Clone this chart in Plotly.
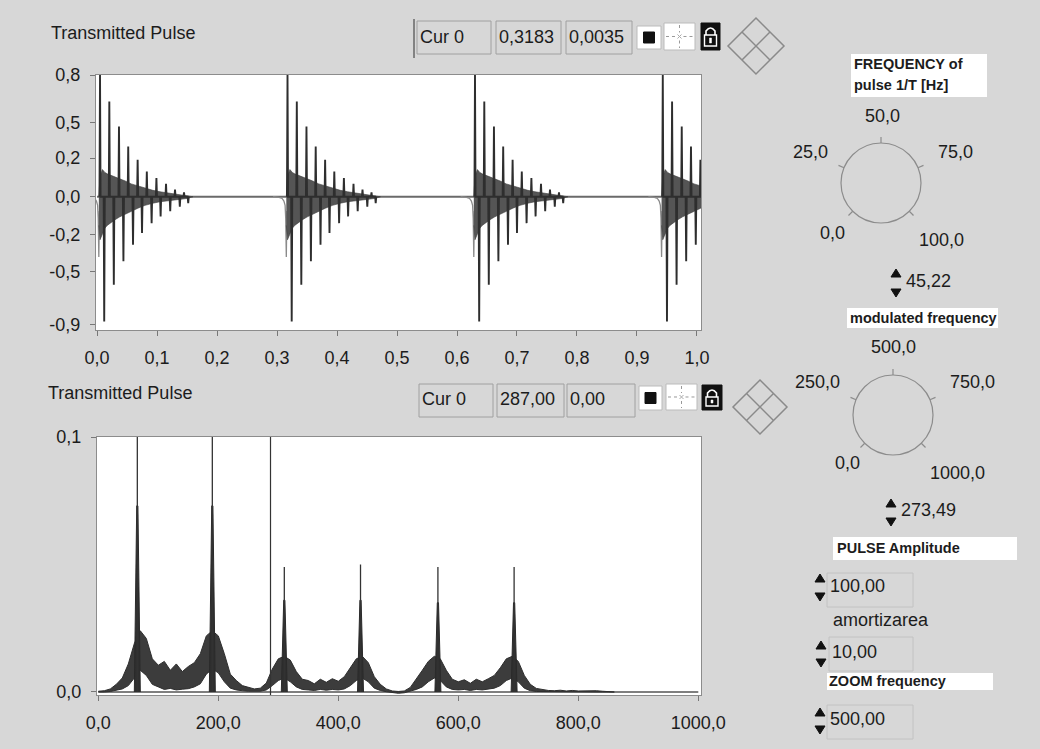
import plotly.graph_objects as go

W, H = 1040, 749
FONT = "Liberation Sans, Arial, sans-serif"
INK = "#1c1c1c"
BG = "#d7d7d7"

# ================= DATA : top graph (Transmitted Pulse, time domain) =================
PULSE_T0 = [0.005, 0.3175, 0.630, 0.943]          # time of first positive spike of each burst [s]
POS_OFF = [0.0, 0.0155, 0.0316, 0.047, 0.0627, 0.078, 0.094, 0.110, 0.125, 0.140]
POS_VAL = [0.85, 0.665, 0.49, 0.35, 0.258, 0.177, 0.13, 0.09, 0.05, 0.03]
NEG_OFF = [0.007, 0.023, 0.039, 0.055, 0.070, 0.086, 0.101, 0.117, 0.133, 0.147]
NEG_VAL = [-0.87, -0.614, -0.45, -0.335, -0.253, -0.184, -0.137, -0.10, -0.07, -0.045]
BAND_OFF = [-0.002, 0.0, 0.004, 0.008, 0.012, 0.018, 0.025, 0.033, 0.042, 0.052,
            0.063, 0.075, 0.088, 0.100, 0.115, 0.130, 0.145, 0.155]
BAND_HI = [0.0, 0.14, 0.19, 0.17, 0.16, 0.15, 0.14, 0.13, 0.11, 0.09,
           0.075, 0.06, 0.045, 0.035, 0.025, 0.018, 0.01, 0.0]
BAND_LO = [-0.2, -0.3, -0.26, -0.22, -0.2, -0.18, -0.16, -0.14, -0.12, -0.10,
           -0.08, -0.06, -0.045, -0.035, -0.025, -0.018, -0.012, 0.0]
DIP_OFF = [-0.024, -0.014, -0.009, -0.006, -0.004, -0.003, -0.002, -0.001]
DIP_VAL = [0.0, -0.004, -0.012, -0.03, -0.06, -0.15, -0.42, -0.1]
TOP_XTICK_VALS = [0.0, 0.1, 0.2, 0.3, 0.4, 0.5, 0.6, 0.7, 0.8, 0.9, 1.0]
TOP_XTICK_TEXT = ["0,0", "0,1", "0,2", "0,3", "0,4", "0,5", "0,6", "0,7", "0,8", "0,9", "1,0"]
TOP_YTICK_VALS = [0.849, 0.52, 0.27, 0.0, -0.265, -0.52, -0.89]
TOP_YTICK_TEXT = ["0,8", "0,5", "0,2", "0,0", "-0,2", "-0,5", "-0,9"]
TOP_CURSOR = ["Cur 0", 0.3183, 0.0035]

# ================= DATA : bottom graph (spectrum) =================
SPEC_F = list(range(0, 870, 10))   # Hz
SPEC_HI_M = [0.3, 0.5, 1.2, 3.0, 5.5, 11, 19, 24, 21, 13,
             10.5, 12, 8.5, 11, 8, 10, 11.5, 15, 22, 24,
             22, 15, 7, 4.5, 2.5, 1.8, 1.2, 1.5, 3.5, 9,
             13, 14, 12.5, 8, 5, 4.5, 3.2, 5, 3.8, 5.2,
             4.2, 6, 9.5, 13, 14, 11.5, 6, 3, 1.2, 0.4,
             0.2, 0.4, 1.8, 5, 8.5, 12, 14, 13, 8.5, 5,
             4, 4.8, 3.4, 5, 4, 5.2, 6.5, 9.5, 13, 14,
             12, 6.5, 3, 1.4, 0.9, 0.6, 0.5, 0.7, 0.4, 0.6,
             0.4, 0.5, 0.4, 0.5, 0.3, 0.2, 0.1]          # x 1e-3
SPEC_LO_M = [0, 0, 0.2, 0.6, 1.2, 2.5, 5.5, 8.5, 6.5, 3,
             2, 1, 1.4, 0.8, 1.1, 1.3, 2, 3.2, 7, 9,
             7.5, 4, 1.5, 0.8, 0.5, 0.3, 0.2, 0.3, 0.8, 2.5,
             4.5, 5.5, 4, 2, 1, 0.8, 0.6, 1, 0.7, 1,
             0.8, 1.2, 2.5, 4.5, 5.5, 4, 1.5, 0.6, 0.1, -0.3,
             -0.5, -0.3, 0.2, 1, 2, 4, 5.5, 4.5, 2, 1,
             0.8, 1, 0.6, 1, 0.8, 1, 1.5, 2.5, 4.5, 5.5,
             4, 1.5, 0.5, 0.2, 0.1, 0, 0, 0.1, 0, 0.1,
             0, 0, 0, 0, 0, 0, 0]                        # x 1e-3
PEAK_F = [65, 190, 310, 437, 566, 693]
PEAK_TOP = [0.11, 0.11, 0.049, 0.050, 0.049, 0.049]
PEAK_CORE = [0.073, 0.073, 0.036, 0.036, 0.035, 0.035]
CURSOR_F = 287.0
BOT_XTICK_VALS = [0, 200, 400, 600, 800, 1000]
BOT_XTICK_TEXT = ["0,0", "200,0", "400,0", "600,0", "800,0", "1000,0"]
BOT_YTICK_VALS = [0.0, 0.1]
BOT_YTICK_TEXT = ["0,0", "0,1"]
BOT_CURSOR = ["Cur 0", 287.00, 0.00]

# ================= DATA : front-panel controls =================
KNOB1_SCALE = [0.0, 25.0, 50.0, 75.0, 100.0]
KNOB1_VALUE = 45.22
KNOB2_SCALE = [0.0, 250.0, 500.0, 750.0, 1000.0]
KNOB2_VALUE = 273.49
PULSE_AMPLITUDE = 100.00
AMORTIZAREA = 10.00
ZOOM_FREQUENCY = 500.00


def fmt(v, d):
    return f"{v:.{d}f}".replace(".", ",")


def px(x):
    return x / W


def py(y):
    return 1 - y / H


def pt(x, y):
    return f"{px(x):.5f},{py(y):.5f}"


fig = go.Figure()

# ---------------- top graph traces ----------------
fig.add_trace(go.Scatter(x=[TOP_XTICK_VALS[0], TOP_XTICK_VALS[-1] + 0.01], y=[0, 0], mode="lines",
                         line=dict(color="#6a6a6a", width=2), xaxis="x", yaxis="y", hoverinfo="skip"))
for t0 in PULSE_T0:
    fig.add_trace(go.Scatter(x=[t0 + o for o in DIP_OFF], y=DIP_VAL, mode="lines",
                             line=dict(color="#8a8a8a", width=1.3), xaxis="x", yaxis="y", hoverinfo="skip"))
    bx = [t0 + o for o in BAND_OFF] + [t0 + o for o in reversed(BAND_OFF)]
    by = BAND_HI + BAND_LO[::-1]
    fig.add_trace(go.Scatter(x=bx, y=by, mode="lines", fill="toself", fillcolor="#555555",
                             line=dict(color="#3a3a3a", width=0.6), xaxis="x", yaxis="y", hoverinfo="skip"))
    spikes = sorted(zip(POS_OFF + NEG_OFF, POS_VAL + NEG_VAL))
    sx, sy = [], []
    d = 0.0009
    for o, v in spikes:
        sx += [t0 + o - d, t0 + o, t0 + o + d]
        sy += [0, v, 0]
    fig.add_trace(go.Scatter(x=sx, y=sy, mode="lines", line=dict(color="#2e2e2e", width=1.9),
                             xaxis="x", yaxis="y", hoverinfo="skip"))

# ---------------- bottom graph traces ----------------
fig.add_trace(go.Scatter(x=[0, 1000], y=[0, 0], mode="lines", line=dict(color="#555", width=1.6),
                         xaxis="x2", yaxis="y2", hoverinfo="skip"))
hi = [v * 1e-3 for v in SPEC_HI_M]
lo = [v * 1e-3 for v in SPEC_LO_M]
fig.add_trace(go.Scatter(x=SPEC_F + SPEC_F[::-1], y=hi + lo[::-1], mode="lines", fill="toself",
                         fillcolor="#3c3c3c", line=dict(color="#2e2e2e", width=1.0),
                         xaxis="x2", yaxis="y2", hoverinfo="skip"))
for f, top, core in zip(PEAK_F, PEAK_TOP, PEAK_CORE):
    fig.add_trace(go.Scatter(x=[f - 5, f - 1, f + 1, f + 5], y=[0, core, core, 0], mode="lines",
                             fill="toself", fillcolor="#2f2f2f", line=dict(color="#2a2a2a", width=1),
                             xaxis="x2", yaxis="y2", hoverinfo="skip"))
    fig.add_trace(go.Scatter(x=[f, f], y=[0, top], mode="lines", line=dict(color="#333", width=1.3),
                             xaxis="x2", yaxis="y2", hoverinfo="skip"))
fig.add_trace(go.Scatter(x=[CURSOR_F, CURSOR_F], y=[-0.002, 0.11], mode="lines",
                         line=dict(color="#333", width=1.2), xaxis="x2", yaxis="y2", hoverinfo="skip"))

axis_common = dict(showgrid=False, zeroline=False, showline=True, mirror=True, linecolor="#8c8c8c",
                   linewidth=1, ticks="outside", ticklen=5, tickcolor="#777", automargin=False,
                   tickfont=dict(family=FONT, size=18, color=INK), fixedrange=True)

fig.update_layout(
    width=W, height=H, autosize=False,
    margin=dict(l=0, r=0, t=0, b=0, pad=0, autoexpand=False),
    paper_bgcolor=BG, plot_bgcolor="white", showlegend=False,
    xaxis=dict(domain=[px(96), px(701)], range=[-0.0017, 1.0067], anchor="y",
               tickmode="array", tickvals=TOP_XTICK_VALS, ticktext=TOP_XTICK_TEXT,
               ticklabelstandoff=6, **axis_common),
    yaxis=dict(domain=[py(330), py(75)], range=[-0.93, 0.85], anchor="x",
               tickmode="array", tickvals=TOP_YTICK_VALS, ticktext=TOP_YTICK_TEXT,
               ticklabelstandoff=6, **axis_common),
    xaxis2=dict(domain=[px(97), px(701)], range=[-2.2, 1004.5], anchor="y2",
                tickmode="array", tickvals=BOT_XTICK_VALS, ticktext=BOT_XTICK_TEXT,
                ticklabelstandoff=6, **axis_common),
    yaxis2=dict(domain=[py(695), py(437)], range=[-0.00118, 0.1], anchor="x2",
                tickmode="array", tickvals=BOT_YTICK_VALS, ticktext=BOT_YTICK_TEXT,
                ticklabelstandoff=6, **axis_common),
)

shapes = []
annots = []


def text(x, y, s, size=18, bold=False, anchor="left"):
    annots.append(dict(xref="paper", yref="paper", x=px(x), y=py(y), text=f"<b>{s}</b>" if bold else s,
                       showarrow=False, xanchor=anchor, yanchor="middle", borderpad=0,
                       font=dict(family=FONT, size=size, color=INK)))


def rect(x0, y0, x1, y1, fill=None, line="#9a9a9a", lw=1):
    shapes.append(dict(type="rect", xref="paper", yref="paper", x0=px(x0), x1=px(x1), y0=py(y1), y1=py(y0),
                       fillcolor=fill if fill else "rgba(0,0,0,0)",
                       line=dict(color=line, width=lw) if lw > 0 else dict(width=0)))


def path(d, color="#888", lw=1.0, fill=None, dash=None):
    ln = dict(color=color, width=lw)
    if dash:
        ln["dash"] = dash
    shapes.append(dict(type="path", xref="paper", yref="paper", path=d, line=ln,
                       fillcolor=fill if fill else "rgba(0,0,0,0)"))


def diamond(cx, cy, h):
    path(f"M {pt(cx, cy - h)} L {pt(cx + h, cy)} L {pt(cx, cy + h)} L {pt(cx - h, cy)} Z", "#8a8a8a", 1.5)
    path(f"M {pt(cx - h / 2, cy - h / 2)} L {pt(cx + h / 2, cy + h / 2)}", "#8a8a8a", 1.5)
    path(f"M {pt(cx + h / 2, cy - h / 2)} L {pt(cx - h / 2, cy + h / 2)}", "#8a8a8a", 1.5)


def legend(y0, y1, xs, labels, btn, cross, lock):
    for (a, b), lab in zip(xs, labels):
        rect(a, y0, b, y1, line="#a0a0a0")
        text(a + 2, (y0 + y1) / 2 - 1, lab)
    bx0, by0, bx1, by1 = btn
    rect(bx0, by0, bx1, by1, fill="white", line="#bbbbbb")
    cx, cy = (bx0 + bx1) / 2, (by0 + by1) / 2
    rect(cx - 5.5, cy - 5.5, cx + 5.5, cy + 5.5, fill="#111", line="#111")
    cx0, cy0, cx1, cy1 = cross
    rect(cx0, cy0, cx1, cy1, fill="white", line="#bbbbbb")
    mx, my = (cx0 + cx1) / 2, (cy0 + cy1) / 2
    path(f"M {pt(cx0 + 2, my)} L {pt(mx - 4, my)} M {pt(mx + 4, my)} L {pt(cx1 - 2, my)}", "#999", 1, dash="dot")
    path(f"M {pt(mx, cy0 + 2)} L {pt(mx, my - 4)} M {pt(mx, my + 4)} L {pt(mx, cy1 - 2)}", "#999", 1, dash="dot")
    path(f"M {pt(mx - 2, my - 2)} L {pt(mx + 2, my + 2)} M {pt(mx + 2, my - 2)} L {pt(mx - 2, my + 2)}", "#aaa", 1)
    lx0, ly0, lx1, ly1 = lock
    rect(lx0, ly0, lx1, ly1, fill="#111", line="#111")
    lm = (lx0 + lx1) / 2
    path(f"M {pt(lm - 4.5, ly0 + 13)} L {pt(lm - 4.5, ly0 + 8)} Q {pt(lm, ly0 + 2)} {pt(lm + 4.5, ly0 + 8)} "
         f"L {pt(lm + 4.5, ly0 + 13)}", "white", 1.6)
    rect(lm - 6, ly0 + 12, lm + 6, ly1 - 4, fill="#111", line="white", lw=1.4)
    rect(lm - 1, ly0 + 15, lm + 1, ly1 - 7, fill="white", line="white", lw=0.5)


text(50, 33, "Transmitted Pulse")
text(47, 393, "Transmitted Pulse")
path(f"M {pt(414, 19)} L {pt(414, 58)}", "#555", 1.3)
legend(21, 54, [(417, 491), (496, 561), (566, 632)],
       [TOP_CURSOR[0], fmt(TOP_CURSOR[1], 4), fmt(TOP_CURSOR[2], 4)],
       (637, 26, 661, 49), (664, 23, 695, 50), (701, 23, 720, 50))
legend(384, 417, [(419, 493), (497, 564), (567, 635)],
       [BOT_CURSOR[0], fmt(BOT_CURSOR[1], 2), fmt(BOT_CURSOR[2], 2)],
       (639, 386, 662, 410), (666, 384, 697, 410), (702, 385, 722, 410))
diamond(756, 46, 28)
diamond(760, 407, 27)


def knob(cx, cy, r, scale, label_pos):
    import math
    shapes.append(dict(type="circle", xref="paper", yref="paper", x0=px(cx - r), x1=px(cx + r),
                       y0=py(cy + r), y1=py(cy - r), line=dict(color="#8c8c8c", width=1.2)))
    smax = scale[-1]
    for v, (lx, ly) in zip(scale, label_pos):
        a = math.radians(225 - 270 * v / smax)
        x0, y0 = cx + r * math.cos(a), cy - r * math.sin(a)
        x1, y1 = cx + (r + 6) * math.cos(a), cy - (r + 6) * math.sin(a)
        path(f"M {pt(x0, y0)} L {pt(x1, y1)}", "#8c8c8c", 1.2)
        text(lx, ly, fmt(v, 1), anchor="center")


def spinner(x, y_up, y_dn, value, tx):
    path(f"M {pt(x - 5, y_up + 4)} L {pt(x + 5, y_up + 4)} L {pt(x, y_up - 4)} Z", "#111", 1, fill="#111")
    path(f"M {pt(x - 5, y_dn - 4)} L {pt(x + 5, y_dn - 4)} L {pt(x, y_dn + 4)} Z", "#111", 1, fill="#111")
    text(tx, (y_up + y_dn) / 2 - 2, fmt(value, 2))


rect(851, 54, 987, 97, fill="white", lw=0)
text(853, 64, "FREQUENCY of", size=14.5, bold=True)
text(853, 85, "pulse 1/T [Hz]", size=14.5, bold=True)
knob(881, 183, 40, KNOB1_SCALE, [(832, 233), (810, 152), (882, 116), (955, 152), (941, 240)])
spinner(896, 273, 293, KNOB1_VALUE, 905)

rect(847, 308, 998, 328, fill="white", lw=0)
text(849, 318, "modulated frequency", size=14.5, bold=True)
knob(893, 415, 40, KNOB2_SCALE, [(847, 463), (817, 382), (893, 347), (972, 382), (957, 473)])
spinner(891, 503, 522, KNOB2_VALUE, 900)

rect(833, 537, 1017, 560, fill="white", lw=0)
text(836, 548, "PULSE Amplitude", size=14.5, bold=True)
rect(827, 573, 913, 607, line="#c2c2c2")
spinner(820, 578, 597, PULSE_AMPLITUDE, 829)
text(832, 620, "amortizarea")
rect(829, 637, 913, 671, line="#c2c2c2")
spinner(821, 645, 663, AMORTIZAREA, 831)
rect(827, 673, 993, 690, fill="white", lw=0)
text(828, 681, "ZOOM frequency", size=14.5, bold=True)
rect(827, 705, 913, 739, line="#c2c2c2")
spinner(820, 712, 730, ZOOM_FREQUENCY, 829)

fig.update_layout(shapes=shapes, annotations=annots)
fig.write_html("out.html", config={"responsive": False, "displayModeBar": False},
               post_script="document.body.style.margin='0px';document.body.style.overflow='hidden';")
